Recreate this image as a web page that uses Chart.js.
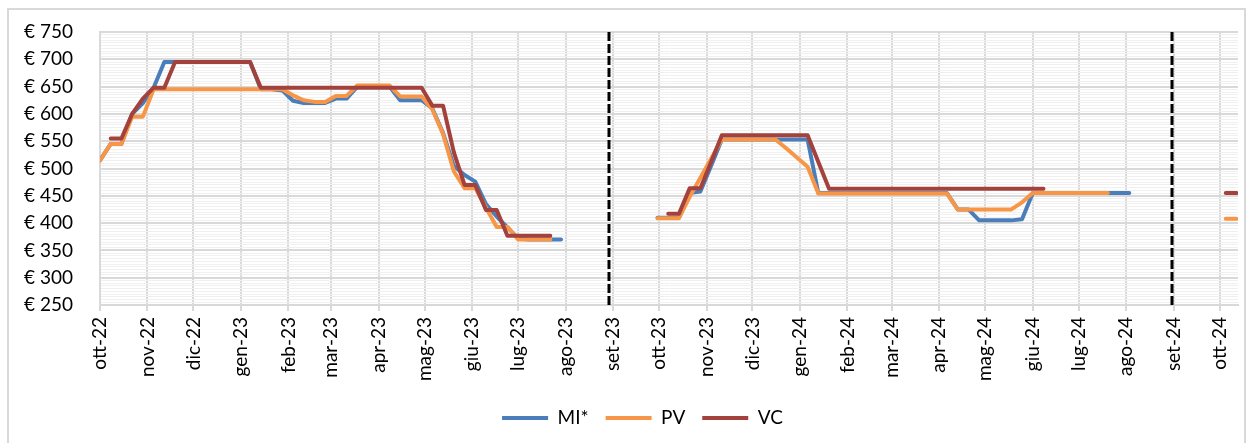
<!DOCTYPE html>
<html>
<head>
<meta charset="utf-8">
<script src="https://cdn.jsdelivr.net/npm/chart.js@4.4.1/dist/chart.umd.min.js"></script>
<style>
html,body{margin:0;padding:0;background:#fff;}
#wrap{position:relative;width:1254px;height:443px;overflow:hidden;}
#frame{position:absolute;left:7px;top:8px;width:1239px;height:460px;border:2px solid #d9d9d9;box-sizing:border-box;}
canvas{position:absolute;left:0;top:0;}
</style>
</head>
<body>
<div id="wrap"><div id="frame"></div><canvas id="c" width="1254" height="443"></canvas></div>
<script>
// ======= Dati =======
const startDate = '2022-10-01'; // prima settimana, poi un valore ogni 7 giorni
const monthDates = ['2022-10-01','2022-11-01','2022-12-01','2023-01-01','2023-02-01','2023-03-01','2023-04-01','2023-05-01','2023-06-01','2023-07-01','2023-08-01','2023-09-01',
  '2023-10-01','2023-11-01','2023-12-01','2024-01-01','2024-02-01','2024-03-01','2024-04-01','2024-05-01','2024-06-01','2024-07-01','2024-08-01','2024-09-01','2024-10-01'];
const monthLabels = ['ott-22','nov-22','dic-22','gen-23','feb-23','mar-23','apr-23','mag-23','giu-23','lug-23','ago-23','set-23',
  'ott-23','nov-23','dic-23','gen-24','feb-24','mar-24','apr-24','mag-24','giu-24','lug-24','ago-24','set-24','ott-24'];
const seasonBreaks = ['2023-08-29','2024-08-31'];
const axisEnd = '2024-10-13';

const miValues = [
  515,545,545,600,620,648,695,695,695,695,
  695,695,695,695,695,645,645,643,624,620,
  620,620,628,628,650,650,650,650,625,625,
  625,610,565,505,488,476,435,412,392,372,
  370,370,370,370,null,null,null,null,null,null,
  null,null,410,410,410,455,458,505,553,553,
  553,553,553,553,553,553,553,455,455,455,
  455,455,455,455,455,455,455,455,455,455,
  425,425,405,405,405,405,407,455,455,455,
  455,455,455,455,455,455,455,null,null,null,
  null,null,null,null,null,null,null
];
const pvValues = [
  515,545,545,595,595,645,645,645,645,645,
  645,645,645,645,645,645,645,645,634,625,
  622,622,633,633,652,652,652,652,632,632,
  632,608,563,495,464,464,428,393,393,370,
  370,370,370,null,null,null,null,null,null,null,
  null,null,409,409,409,448,483,518,553,553,
  553,553,553,553,537,520,503,454,454,454,
  454,454,454,454,454,454,454,454,454,454,
  425,425,425,425,425,425,438,455,455,455,
  455,455,455,455,455,null,null,null,null,null,
  null,null,null,null,null,408,408
];
const vcValues = [
  null,555,555,600,628,648,648,695,695,695,
  695,695,695,695,695,648,648,648,648,648,
  648,648,648,648,648,648,648,648,648,648,
  648,615,615,530,470,470,424,424,377,377,
  377,377,377,null,null,null,null,null,null,null,
  null,null,null,417,417,464,464,512,561,561,
  561,561,561,561,561,561,561,512,463,463,
  463,463,463,463,463,463,463,463,463,463,
  463,463,463,463,463,463,463,463,463,null,
  null,null,null,null,null,null,null,null,null,null,
  null,null,null,null,null,455,455
];

// ======= Helpers =======
function dayOf(s){
  const [y,m,d]=s.split('-').map(Number);
  const [y0,m0,d0]=startDate.split('-').map(Number);
  return (Date.UTC(y,m-1,d)-Date.UTC(y0,m0-1,d0))/86400000;
}
function pts(vals){return vals.map((v,i)=>({x:i*7,y:v}));}

const FONT={family:'Lato',size:19};
const LEGEND_LEFT=47;

// linee tratteggiate di fine stagione + legenda spostata come nell'originale
const breakLines={
  id:'breakLines',
  beforeDraw(chart){ if(chart.legend) chart.legend.left=LEGEND_LEFT; },
  beforeDatasetsDraw(chart){
    const {ctx,chartArea,scales}=chart;
    ctx.save();
    ctx.strokeStyle='#000';ctx.lineWidth=3;ctx.setLineDash([9,3]);
    for(const d of seasonBreaks){
      const x=Math.round(scales.x.getPixelForValue(dayOf(d)));
      ctx.beginPath();ctx.moveTo(x,chartArea.top);ctx.lineTo(x,chartArea.bottom);ctx.stroke();
    }
    ctx.restore();
  }
};

const common={pointRadius:0,borderWidth:4,borderCapStyle:'round',borderJoinStyle:'round',tension:0,fill:false};

new Chart(document.getElementById('c'),{
  type:'line',
  data:{datasets:[
    {...common,label:'MI*',data:pts(miValues),borderColor:'#4a7ebb',backgroundColor:'#4a7ebb',order:3},
    {...common,label:'PV',data:pts(pvValues),borderColor:'#f79646',backgroundColor:'#f79646',order:2},
    {...common,label:'VC',data:pts(vcValues),borderColor:'#a3413c',backgroundColor:'#a3413c',order:1}
  ]},
  options:{
    responsive:false,animation:false,events:[],
    layout:{padding:{left:0,right:16,top:32,bottom:5.5}},
    scales:{
      x:{
        type:'linear',min:0,max:dayOf(axisEnd),
        afterBuildTicks:s=>{s.ticks=monthDates.map(d=>({value:dayOf(d)}));},
        afterFit:s=>{s.height=86.5;s.paddingTop=0;s.paddingBottom=0;},
        ticks:{autoSkip:false,minRotation:90,maxRotation:90,padding:6,color:'#000',font:FONT,callback:(v,i)=>monthLabels[i]},
        grid:{color:'#d9d9d9',lineWidth:2,tickLength:6},
        border:{color:'#d9d9d9',width:2}
      },
      y:{
        min:250,max:750,
        afterFit:s=>{s.width=100;s.paddingTop=0;s.paddingBottom=0;},
        ticks:{stepSize:5,maxTicksLimit:200,autoSkip:false,padding:27,color:'#000',font:FONT,
          callback:v=>v%50===0?'€ '+v:''},
        grid:{drawTicks:false,
          color:c=>c.tick.value%50===0?'#d9d9d9':'#f0f0f0',
          lineWidth:c=>c.tick.value%50===0?2:1},
        border:{color:'#d9d9d9',width:2}
      }
    },
    plugins:{
      tooltip:{enabled:false},
      legend:{position:'bottom',labels:{usePointStyle:true,pointStyle:'line',pointStyleWidth:46,padding:17,color:'#000',font:FONT,
        sort:(a,b)=>a.datasetIndex-b.datasetIndex}}
    }
  },
  plugins:[breakLines]
});
</script>
</body>
</html>
